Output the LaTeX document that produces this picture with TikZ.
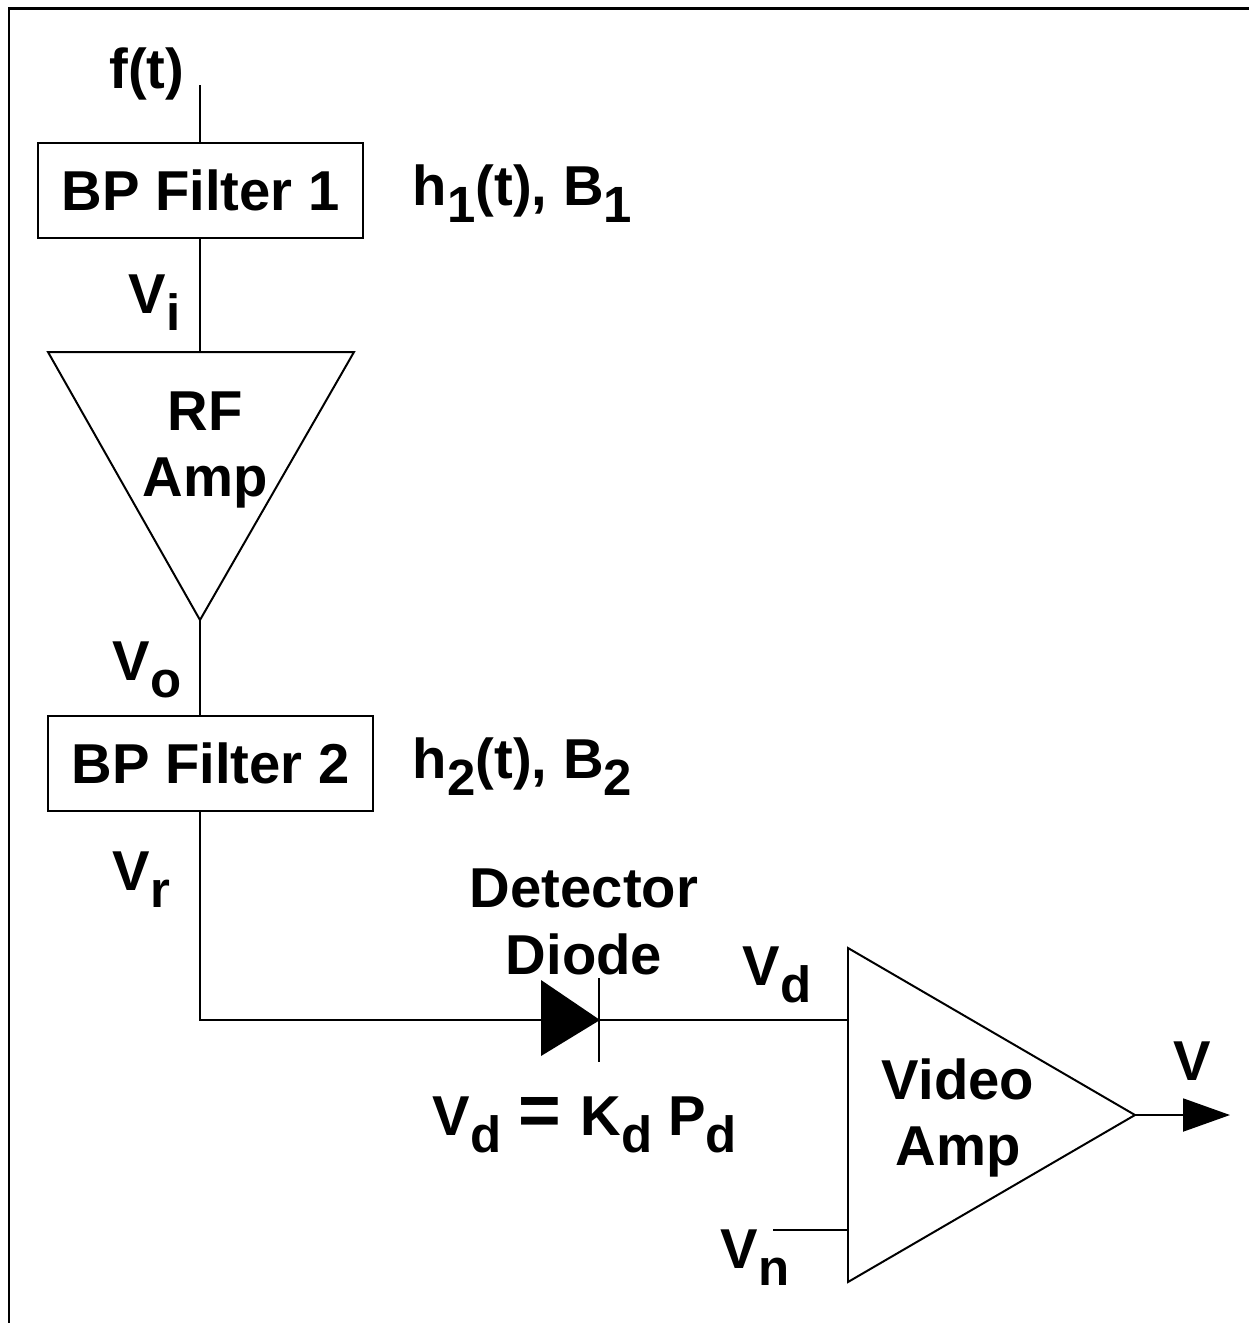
\documentclass[tikz,border=0pt]{standalone}
\usepackage{fontspec}
\setmainfont{Liberation Sans}
\usetikzlibrary{arrows.meta}
\newcommand{\sub}[1]{\raisebox{-10pt}{\fontsize{29}{34}\selectfont #1}}

\begin{document}
\begin{tikzpicture}[x=0.02cm, y=-0.02cm, line width=1.13pt,
    lbl/.style={font=\bfseries\fontsize{32}{38}\selectfont, inner sep=0pt, align=center},
    filterbox/.style={draw, lbl, minimum width=6.5cm, minimum height=1.9cm}]
            \useasboundingbox (0,0) rectangle (1249,1323);
            % Frame on the top and left sides
            \draw[line width=1.7pt] (9,1323) -- (9,8) -- (1249,8);

            % Filter blocks
            \node[filterbox] (bp1) at (200.5,190.5) {BP Filter 1};
            \node[filterbox] (bp2) at (210.5,763.5) {BP Filter 2};

            % Corners of the two amplifiers
            \coordinate (rfin) at (200,352);
            \coordinate (rfout) at (200,620);
            \coordinate (vain) at (848,1020);
            \coordinate (vaout) at (1135,1115);
            \coordinate (vnin) at (848,1230);
            \draw (48,352) -- (354,352) -- (rfout) -- cycle;
            \draw (848,948) -- (848,1282) -- (vaout) -- cycle;

            % Detector diode
            \coordinate (dioin) at (541,1020);
            \coordinate (dioout) at (600,1020);
            \fill (541,980) -- (541,1056) -- (dioout) -- cycle;
            \draw (599,978) -- (599,1062);

            % Free ends of the signal lines
            \coordinate (fin) at (200,85);
            \coordinate (vn) at (773,1230);
            \coordinate (vout) at (1230,1115);

            % Signal lines
            \draw (fin) -- (fin |- bp1.north);
            \draw (fin |- bp1.south) -- (rfin);
            \draw (rfout) -- (rfout |- bp2.north);
            \draw (rfout |- bp2.south) |- (dioin);
            \draw (dioout) -- (vain);
            \draw (vn) -- (vnin);
            \draw[-{Triangle[length=0.94cm, width=0.66cm]}] (vaout) -- (vout);

            % Labels
            \node[lbl, anchor=base] (ft) at (147,88) {f(t)};
            \node[lbl, anchor=base west] (h1) at (412,205) {h\sub{1}(t), B\sub{1}};
            \node[lbl, anchor=base west] (vi) at (128,313) {V\sub{i}};
            \node[lbl] (rf) at (205,450) {RF\\Amp};
            \node[lbl, anchor=base west] (vo) at (112,680) {V\sub{o}};
            \node[lbl, anchor=base west] (h2) at (412,778) {h\sub{2}(t), B\sub{2}};
            \node[lbl, anchor=base west] (vr) at (112,890) {V\sub{r}};
            \node[lbl] (det) at (584,922) {Detector\\Diode};
            \node[lbl, anchor=base west] (vd) at (742,985) {V\sub{d}};
            \node[lbl, anchor=base west] (law) at (432,1135)
                {V\sub{d}\hspace{0.3em}\scalebox{1.3}{=}\hspace{0.35em}K\sub{d} P\sub{d}};
            \node[lbl] (video) at (958,1118) {Video\\Amp};
            \node[lbl, anchor=base] (v) at (1192,1080) {V};
            \node[lbl, anchor=base west] (vnl) at (720,1268) {V\sub{n}};
        \end{tikzpicture}
\end{document}
